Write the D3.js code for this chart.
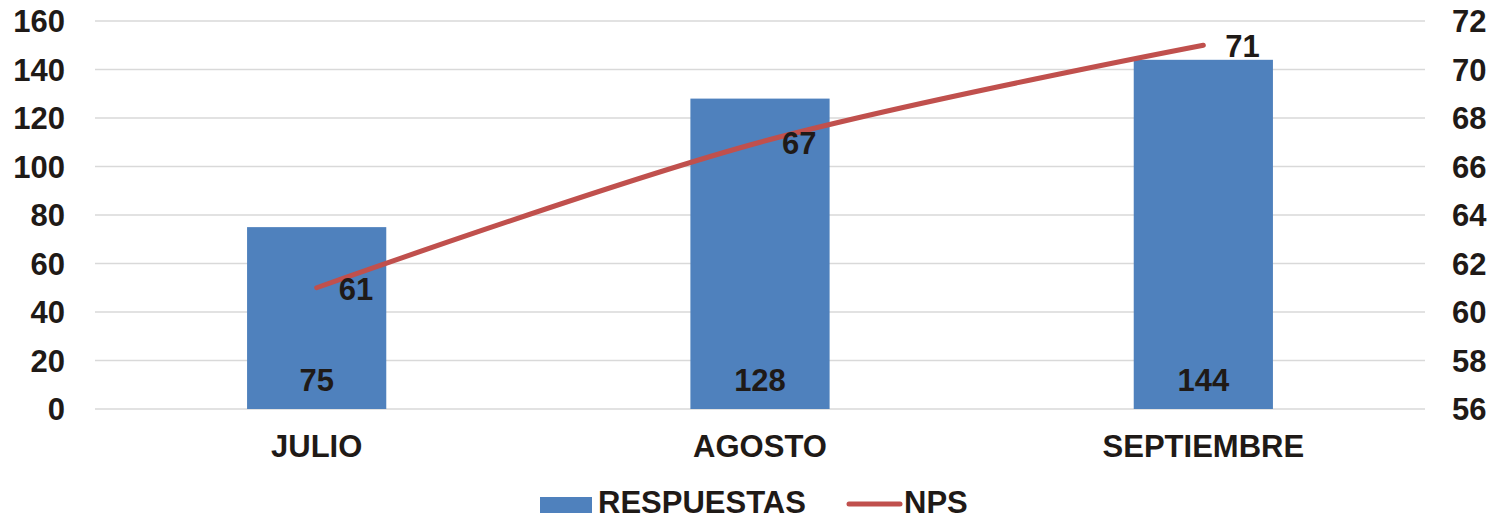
<!DOCTYPE html>
<html>
<head>
<meta charset="utf-8">
<script src="https://cdn.jsdelivr.net/npm/d3@7"></script>
<style>
  body { margin: 0; background: #fff; }
  text { font-family: "Liberation Sans", Arial, sans-serif; font-weight: bold; fill: #1f1a17; }
</style>
</head>
<body>
<div id="chart"></div>
<script>
const months = ["JULIO", "AGOSTO", "SEPTIEMBRE"];
const respuestas = [75, 128, 144];
const nps = [61, 67, 71];
const leftTicks = [0, 20, 40, 60, 80, 100, 120, 140, 160];
const rightTicks = [56, 58, 60, 62, 64, 66, 68, 70, 72];

const width = 1491, height = 520;
const plotLeft = 95, plotRight = 1425, plotTop = 21, plotBottom = 409;
const fs = 31;

const svg = d3.select("#chart").append("svg")
  .attr("width", width).attr("height", height);

const x = d3.scaleBand().domain(months).range([plotLeft, plotRight]).padding(0);
const yL = d3.scaleLinear().domain([0, 160]).range([plotBottom, plotTop]);
const yR = d3.scaleLinear().domain([56, 72]).range([plotBottom, plotTop]);
const barW = x.bandwidth() * 0.314;

// gridlines
svg.append("g").selectAll("line").data(leftTicks).join("line")
  .attr("x1", plotLeft).attr("x2", plotRight)
  .attr("y1", d => yL(d)).attr("y2", d => yL(d))
  .attr("stroke", "#d9d9d9").attr("stroke-width", 1.5);

// left axis labels
svg.append("g").selectAll("text").data(leftTicks).join("text")
  .attr("x", 65).attr("y", d => yL(d)).attr("dy", "0.36em")
  .attr("text-anchor", "end").attr("font-size", fs)
  .text(d => d);

// right axis labels
svg.append("g").selectAll("text").data(rightTicks).join("text")
  .attr("x", 1452).attr("y", d => yR(d)).attr("dy", "0.36em")
  .attr("text-anchor", "start").attr("font-size", fs)
  .text(d => d);

// bars
svg.append("g").selectAll("rect").data(respuestas).join("rect")
  .attr("x", (d, i) => x(months[i]) + x.bandwidth() / 2 - barW / 2)
  .attr("y", d => yL(d))
  .attr("width", barW)
  .attr("height", d => yL(0) - yL(d))
  .attr("fill", "#4f81bd");

// bar labels
svg.append("g").selectAll("text").data(respuestas).join("text")
  .attr("x", (d, i) => x(months[i]) + x.bandwidth() / 2)
  .attr("y", 380).attr("dy", "0.36em")
  .attr("text-anchor", "middle").attr("font-size", fs)
  .text(d => d);

// x labels
svg.append("g").selectAll("text").data(months).join("text")
  .attr("x", d => x(d) + x.bandwidth() / 2)
  .attr("y", 446).attr("dy", "0.36em")
  .attr("text-anchor", "middle").attr("font-size", fs)
  .text(d => d);

// NPS line
const line = d3.line()
  .x((d, i) => x(months[i]) + x.bandwidth() / 2)
  .y(d => yR(d))
  .curve(d3.curveCatmullRom.alpha(0.5));

svg.append("path").datum(nps)
  .attr("d", line)
  .attr("fill", "none")
  .attr("stroke", "#c0504d")
  .attr("stroke-width", 5)
  .attr("stroke-linecap", "round");

// NPS labels
svg.append("g").selectAll("text").data(nps).join("text")
  .attr("x", (d, i) => x(months[i]) + x.bandwidth() / 2 + 22)
  .attr("y", d => yR(d) + 1).attr("dy", "0.36em")
  .attr("text-anchor", "start").attr("font-size", fs)
  .text(d => d);

// legend
const lg = svg.append("g");
lg.append("rect").attr("x", 540).attr("y", 497).attr("width", 52).attr("height", 16).attr("fill", "#4f81bd");
lg.append("text").attr("x", 598).attr("y", 513).attr("font-size", fs).text("RESPUESTAS");
lg.append("line").attr("x1", 849).attr("x2", 900).attr("y1", 504).attr("y2", 504)
  .attr("stroke", "#c0504d").attr("stroke-width", 5).attr("stroke-linecap", "round");
lg.append("text").attr("x", 904).attr("y", 513).attr("font-size", fs).text("NPS");
</script>
</body>
</html>
